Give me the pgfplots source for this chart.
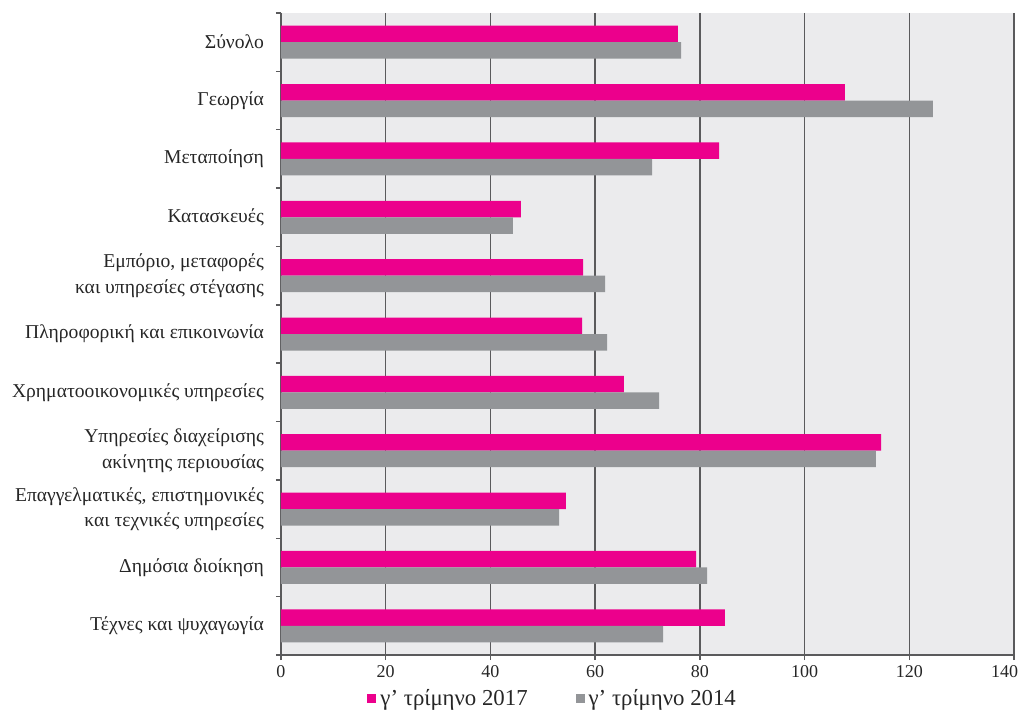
\documentclass[border=0pt]{standalone}
\usepackage{fontspec}
\setmainfont{Liberation Serif}
\usepackage{pgfplots}
\pgfplotsset{compat=1.18}
\definecolor{barpink}{HTML}{EC008C}
\definecolor{bargray}{HTML}{939598}
\definecolor{plotbg}{HTML}{EBEBED}
\definecolor{gridgray}{HTML}{5A5A5C}

\begin{document}
\begin{tikzpicture}
\begin{axis}[
    scale only axis,
    width=366.5pt,
    height=321pt,
    xbar=0pt,
    bar width=8.25pt,
    xmin=0, xmax=140,
    ymin=-0.5, ymax=10.5,
    y dir=reverse,
    xtick={0,20,...,140},
    xticklabels={0,20,40,60,80,100,120,{\makebox[0pt][r]{140\kern-2pt}}},
    ytick={0,...,10},
    yticklabels={
        Σύνολο,
        Γεωργία,
        Μεταποίηση,
        Κατασκευές,
        {Εμπόριο, μεταφορές\\και υπηρεσίες στέγασης},
        Πληροφορική και επικοινωνία,
        Χρηματοοικονομικές υπηρεσίες,
        {Υπηρεσίες διαχείρισης\\ακίνητης περιουσίας},
        {Επαγγελματικές, επιστημονικές\\και τεχνικές υπηρεσίες},
        Δημόσια διοίκηση,
        Τέχνες και ψυχαγωγία},
    minor ytick={-0.5,0.5,...,10.5},
    axis x line*=bottom,
    axis y line*=left,
    axis line style={-, draw=gridgray, line width=0.8pt},
    axis background/.style={fill=plotbg},
    xmajorgrids,
    grid style={draw=gridgray, line width=0.7pt},
    tick align=outside,
    major tick length=2.5pt,
    minor tick length=2.5pt,
    every major y tick/.style={draw=none},
    every minor y tick/.style={draw=gridgray, line width=0.7pt},
    every major x tick/.style={draw=gridgray, line width=0.7pt},
    xticklabel style={font=\fontsize{9}{11}\selectfont, text=black!85, inner sep=1pt, yshift=-1.5pt},
    yticklabel style={font=\fontsize{9.8}{12.6}\selectfont, align=right, text=black!85, xshift=-2.5pt},
    legend style={
        at={(axis description cs:0.372,-0.068)}, anchor=center,
        draw=none, fill=none,
        legend columns=2,
        font=\fontsize{11.4}{13}\selectfont,
        text=black!85,
        /tikz/every even column/.append style={column sep=22pt},
        legend cell align=left,
    },
    legend image code/.code={\fill[#1] (0pt,-2.2pt) rectangle (4.5pt,2.2pt);},
]
\addplot[fill=barpink, draw=none, bar shift=4.125pt] coordinates {
    (75.8,0) (107.7,1) (83.7,2) (45.8,3) (57.7,4) (57.5,5)
    (65.5,6) (114.6,7) (54.4,8) (79.3,9) (84.8,10)};
\addplot[fill=bargray, draw=none, bar shift=-4.125pt] coordinates {
    (76.4,0) (124.5,1) (70.9,2) (44.3,3) (61.9,4) (62.3,5)
    (72.2,6) (113.6,7) (53.1,8) (81.4,9) (73.0,10)};
\legend{γ' τρίμηνο 2017, γ' τρίμηνο 2014}
\end{axis}
\pgfresetboundingbox
\path[use as bounding box] ([xshift=-140.5pt,yshift=-28pt]current axis.south west)
    rectangle ([xshift=4pt,yshift=6.5pt]current axis.north east);
\end{tikzpicture}
\end{document}
